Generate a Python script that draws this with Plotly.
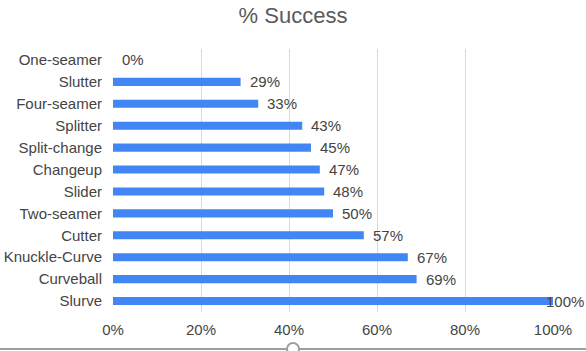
import plotly.graph_objects as go

pitches = ["One-seamer", "Slutter", "Four-seamer", "Splitter", "Split-change", "Changeup",
           "Slider", "Two-seamer", "Cutter", "Knuckle-Curve", "Curveball", "Slurve"]
success = [0, 29, 33, 43, 45, 47, 48, 50, 57, 67, 69, 100]
tick_vals = [0, 20, 40, 60, 80, 100]
tick_text = ["0%", "20%", "40%", "60%", "80%", "100%"]

BAR = "#4285F4"
TXT = "#444444"
FONT = "Liberation Sans, Arial, sans-serif"
FS = 15

fig = go.Figure(go.Bar(
    y=pitches, x=success, orientation="h",
    marker=dict(color=BAR, line=dict(width=0)),
    width=0.37, hoverinfo="x+y",
))

annotations = []
for p, v in zip(pitches, success):
    label = f"{v}%"
    if v >= 95:
        annotations.append(dict(x=1, xref="paper", y=p, yref="y", text=label,
                                showarrow=False, xanchor="right", xshift=33,
                                font=dict(size=FS, color=TXT, family=FONT)))
    else:
        annotations.append(dict(x=v, xref="x", y=p, yref="y", text=label,
                                showarrow=False, xanchor="left", xshift=7,
                                font=dict(size=FS, color=TXT, family=FONT)))

fig.update_layout(
    width=586, height=351,
    margin=dict(l=113, r=33, t=49, b=39),
    paper_bgcolor="white", plot_bgcolor="white",
    title=dict(text="% Success", x=0.5, xanchor="center", y=0.955, yanchor="middle",
               font=dict(size=22, color="#5a5a5a", family=FONT)),
    font=dict(family=FONT, color=TXT, size=FS),
    showlegend=False,
    annotations=annotations,
    xaxis=dict(range=[0, 100], tickvals=tick_vals, ticktext=tick_text,
               showgrid=True, gridcolor="#d9d9d9", gridwidth=1, zeroline=False,
               showline=False, ticks="", ticklabelstandoff=7, automargin=False,
               tickfont=dict(size=FS, color=TXT), fixedrange=True),
    yaxis=dict(categoryorder="array", categoryarray=pitches, autorange="reversed",
               showgrid=False, zeroline=False, showline=False, ticks="", automargin=False,
               ticklabelstandoff=10, tickfont=dict(size=FS, color=TXT), fixedrange=True),
    shapes=[
        dict(type="line", xref="paper", yref="paper", x0=-113/440, x1=1+33/440,
             y0=-37/263, y1=-37/263, line=dict(color="#9e9e9e", width=2)),
        dict(type="circle", xref="paper", yref="paper",
             x0=(287-113)/440, x1=(299-113)/440, y0=-43/263, y1=-31/263,
             fillcolor="white", line=dict(color="#9e9e9e", width=2)),
    ],
)

fig.write_html("out.html", config={"displayModeBar": False})
